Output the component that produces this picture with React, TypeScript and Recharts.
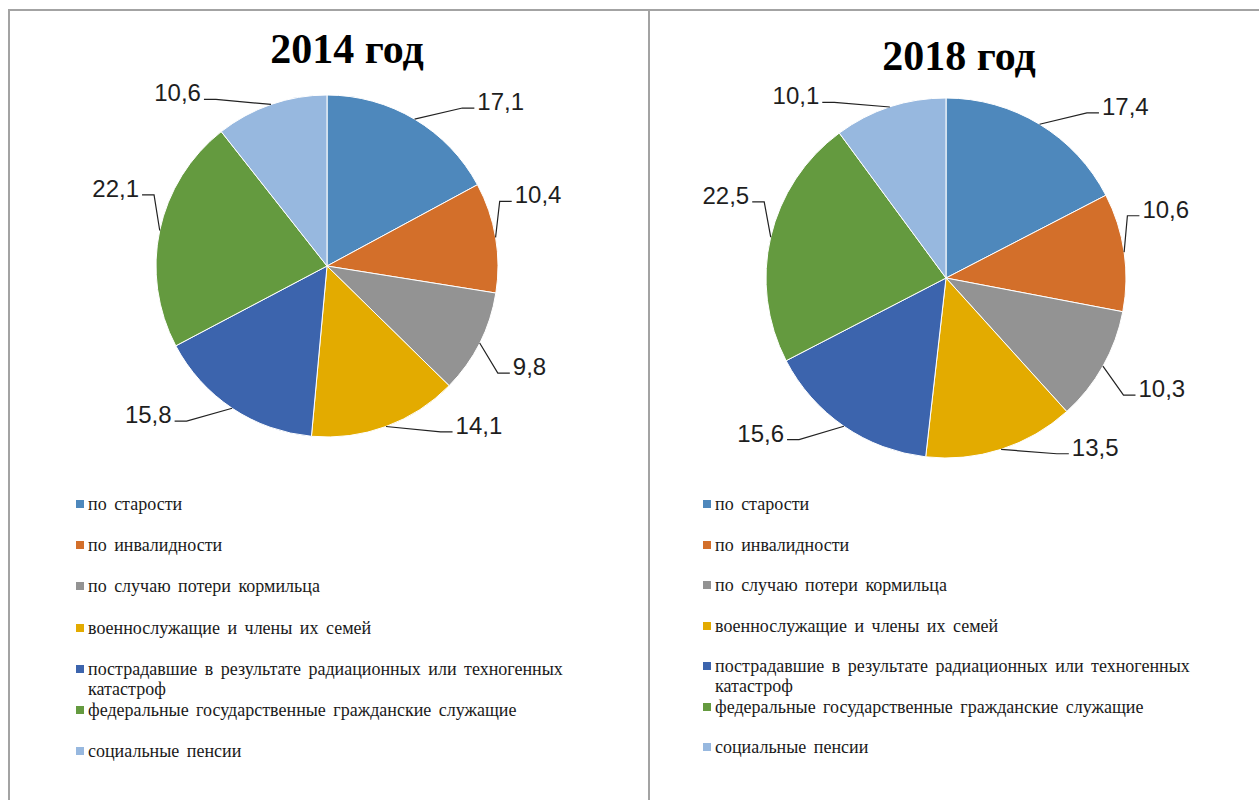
import React from 'react';
import { PieChart, Pie, Cell, Legend } from 'recharts';

const categories = [
  'по старости',
  'по инвалидности',
  'по случаю потери кормильца',
  'военнослужащие и члены их семей',
  'пострадавшие в результате радиационных или техногенных катастроф',
  'федеральные государственные гражданские служащие',
  'социальные пенсии',
];
const values2014 = [17.1, 10.4, 9.8, 14.1, 15.8, 22.1, 10.6];
const values2018 = [17.4, 10.6, 10.3, 13.5, 15.6, 22.5, 10.1];
const titles = ['2014 год', '2018 год'];

const colors = ['#4E88BC', '#D36F2A', '#939393', '#E3AB00', '#3C64AD', '#649A3F', '#97B8DF'];

const RAD = Math.PI / 180;
const fmt = (v: number) => v.toFixed(1).replace('.', ',');

const renderLabel = (props: any) => {
  const { cx, cy, midAngle, outerRadius, value, index } = props;
  const c = Math.cos(midAngle * RAD);
  const s = Math.sin(midAngle * RAD);
  const sx = Math.sign(c) || 1;
  const ex = cx + outerRadius * c;
  const ey = cy - outerRadius * s;
  const dx = sx * 60 * Math.pow(Math.abs(s), 1.5);
  const dy = -Math.sign(s) * 37 * Math.pow(Math.abs(c), 1.8);
  const px = ex + dx;
  const py = ey + dy;
  const hx = px + sx * 12;
  return (
    <g key={`lbl-${index}`}>
      <path d={`M${ex},${ey}L${px},${py}L${hx},${py}`} stroke="#222" strokeWidth={1.2} fill="none" />
      <text
        x={hx + sx * 3}
        y={py + 2}
        textAnchor={c >= 0 ? 'start' : 'end'}
        fontFamily="'Liberation Sans', Arial, sans-serif"
        fontSize={24}
        fill="#1e1e1e"
      >
        {fmt(value)}
      </text>
    </g>
  );
};

const makeLegend = (pitch: number) => () => (
  <div style={{ fontFamily: "'Liberation Serif', 'Times New Roman', serif", fontSize: 18, color: '#1a1a1a', textAlign: 'left' }}>
    {categories.map((name, i) => (
      <div key={i} style={{ position: 'relative', height: pitch, lineHeight: '20px' }}>
        <span style={{ position: 'absolute', left: 0, top: 6, width: 8, height: 8, background: colors[i] }} />
        <div style={{ position: 'absolute', left: 12, top: 0, width: 500, wordSpacing: 3 }}>{name}</div>
      </div>
    ))}
  </div>
);

const makeData = (vals: number[]) => categories.map((name, i) => ({ name, value: vals[i] }));

type PanelProps = {
  left: number;
  width: number;
  title: string;
  titleTop: number;
  titleCenter: number;
  values: number[];
  cx: number;
  cy: number;
  r: number;
  legendLeft: number;
  legendPitch: number;
};

const Panel = (p: PanelProps) => (
  <>
    <div
      style={{
        position: 'absolute',
        left: p.titleCenter - 150,
        top: p.titleTop,
        width: 300,
        textAlign: 'center',
        fontFamily: "'Liberation Serif', 'Times New Roman', serif",
        fontWeight: 'bold',
        fontSize: 42,
        lineHeight: '42px',
        color: '#000',
      }}
    >
      {p.title}
    </div>
    <div style={{ position: 'absolute', left: p.left, top: 12 }}>
      <PieChart width={p.width} height={786} margin={{ top: 0, right: 0, bottom: 0, left: 0 }}>
        <Pie
          data={makeData(p.values)}
          dataKey="value"
          nameKey="name"
          cx={p.cx}
          cy={p.cy}
          outerRadius={p.r}
          startAngle={90}
          endAngle={-270}
          stroke="#ffffff"
          strokeWidth={1}
          label={renderLabel}
          labelLine={false}
          isAnimationActive={false}
        >
          {p.values.map((_, i) => (
            <Cell key={i} fill={colors[i]} />
          ))}
        </Pie>
        <Legend
          layout="horizontal"
          verticalAlign="bottom"
          align="left"
          content={makeLegend(p.legendPitch)}
          wrapperStyle={{ position: 'absolute', left: p.legendLeft, top: 482, bottom: 'auto', width: 540 }}
        />
      </PieChart>
    </div>
  </>
);

export default function App() {
  return (
    <div style={{ position: 'absolute', left: 0, top: 0, width: 1259, height: 800, overflow: 'hidden', background: '#fff' }}>
      <div style={{ position: 'absolute', left: 8, top: 9, width: 1300, height: 900, borderTop: '2px solid #a3a3a3', borderLeft: '2px solid #a3a3a3' }} />
      <div style={{ position: 'absolute', left: 648, top: 9, width: 2, height: 900, background: '#a3a3a3' }} />
      <Panel
        left={10}
        width={638}
        title={titles[0]}
        titleTop={28}
        titleCenter={347}
        values={values2014}
        cx={317}
        cy={254}
        r={171}
        legendLeft={66}
        legendPitch={41.2}
      />
      <Panel
        left={651}
        width={607}
        title={titles[1]}
        titleTop={35}
        titleCenter={959}
        values={values2018}
        cx={295}
        cy={266}
        r={180}
        legendLeft={52}
        legendPitch={40.5}
      />
    </div>
  );
}
